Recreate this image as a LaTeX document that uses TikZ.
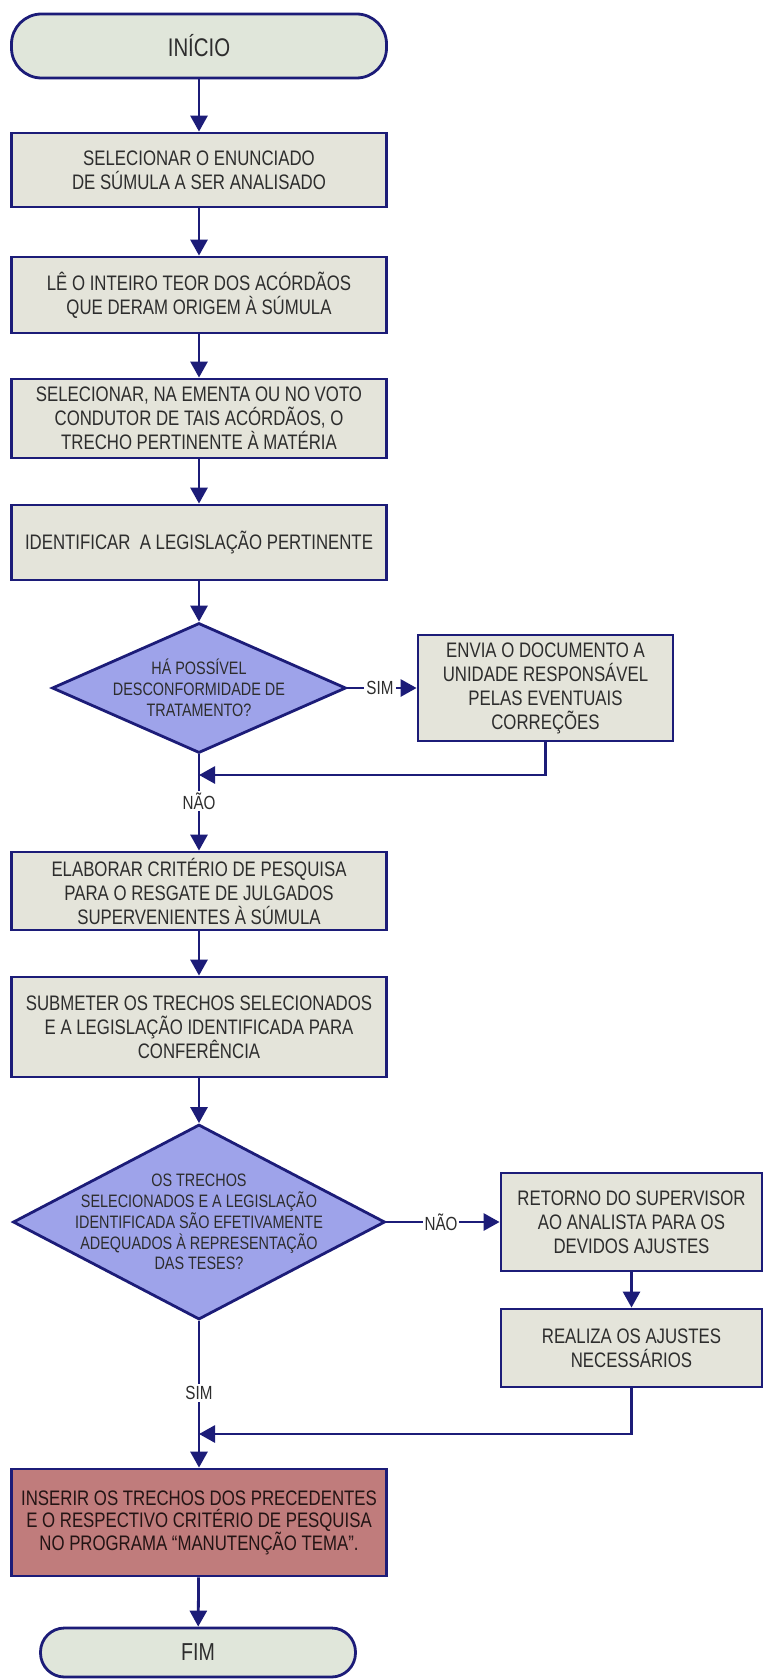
\documentclass[tikz,border=0pt]{standalone}
\usepackage{fontspec}
\setmainfont{Liberation Sans}[FakeStretch=0.8]
\usetikzlibrary{arrows.meta,shapes.geometric}
\definecolor{navy}{RGB}{28,28,120}
\definecolor{boxfill}{RGB}{228,228,218}
\definecolor{termfill}{RGB}{224,230,218}
\definecolor{diafill}{RGB}{158,163,234}
\definecolor{insfill}{RGB}{192,124,124}
\definecolor{txt}{RGB}{45,45,45}
\begin{document}
\begin{tikzpicture}[x=1pt,y=-1pt,
  box/.style={draw=navy,line width=2.8pt,fill=boxfill,minimum width=375pt,inner sep=0pt,align=center,text=txt,font=\fontsize{21}{24}\selectfont},
  term/.style={draw=navy,line width=2.8pt,fill=termfill,rounded corners=30pt,inner sep=0pt,text=txt,font=\fontsize{25.5}{28}\selectfont},
  dec/.style={diamond,draw=navy,line width=2.8pt,fill=diafill,inner sep=0pt},
  dtext/.style={align=center,text=txt,font=\fontsize{18}{20.8}\selectfont},
  lbl/.style={fill=white,inner sep=2pt,text=txt,font=\fontsize{19}{20}\selectfont},
  arr/.style={draw=navy,line width=2.8pt,-{Triangle[width=17pt,length=16pt]}}]
\fill[white] (0,0) rectangle (763,1680);
\useasboundingbox (0,0) rectangle (763,1680);

\node[term,minimum width=375pt,minimum height=64pt] (inicio) at (199,46) {INÍCIO};
\node[box,minimum height=74pt] (b1) at (199,170) {SELECIONAR O ENUNCIADO\\DE SÚMULA A SER ANALISADO};
\node[box,minimum height=76pt] (b2) at (199,295) {LÊ O INTEIRO TEOR DOS ACÓRDÃOS\\QUE DERAM ORIGEM À SÚMULA};
\node[box,minimum height=79pt] (b3) at (199,418.5) {SELECIONAR, NA EMENTA OU NO VOTO\\CONDUTOR DE TAIS ACÓRDÃOS, O\\TRECHO PERTINENTE À MATÉRIA};
\node[box,minimum height=75pt] (b4) at (199,542.5) {IDENTIFICAR\ \ A LEGISLAÇÃO PERTINENTE};

\node[dec,minimum width=294pt,minimum height=130pt] (d1) at (199,688) {};
\node[dtext] (d1t) at (199,688) {HÁ POSSÍVEL\\DESCONFORMIDADE DE\\TRATAMENTO?};
\node[box,minimum width=255pt,minimum height=106pt] (envia) at (545.5,688) {ENVIA O DOCUMENTO A\\UNIDADE RESPONSÁVEL\\PELAS EVENTUAIS\\CORREÇÕES};
\coordinate (j1) at (199,775);

\node[box,minimum height=78pt] (b5) at (199,891) {ELABORAR CRITÉRIO DE PESQUISA\\PARA O RESGATE DE JULGADOS\\SUPERVENIENTES À SÚMULA};
\node[box,minimum height=100pt] (b6) at (199,1027) {SUBMETER OS TRECHOS SELECIONADOS\\E A LEGISLAÇÃO IDENTIFICADA PARA\\CONFERÊNCIA};

\node[dec,minimum width=372pt,minimum height=195pt] (d2) at (199,1222) {};
\node[dtext] (d2t) at (199,1222) {OS TRECHOS\\SELECIONADOS E A LEGISLAÇÃO\\IDENTIFICADA SÃO EFETIVAMENTE\\ADEQUADOS À REPRESENTAÇÃO\\DAS TESES?};
\node[box,minimum width=261pt,minimum height=98pt] (retorno) at (631.5,1222) {RETORNO DO SUPERVISOR\\AO ANALISTA PARA OS\\DEVIDOS AJUSTES};
\node[box,minimum width=261pt,minimum height=78pt] (realiza) at (631.5,1348) {REALIZA OS AJUSTES\\NECESSÁRIOS};
\coordinate (j2) at (199,1434);

\node[box,fill=insfill,minimum height=107pt,text={rgb,255:red,35;green,20;blue,20},font=\fontsize{21}{22.5}\selectfont] (inserir) at (199,1522.5) {INSERIR OS TRECHOS DOS PRECEDENTES\\E O RESPECTIVO CRITÉRIO DE PESQUISA\\NO PROGRAMA “MANUTENÇÃO TEMA”.};
\node[term,minimum width=315pt,minimum height=49pt,rounded corners=24pt,font=\fontsize{24.5}{28}\selectfont] (fim) at (198,1652.5) {FIM};

\draw[arr] (inicio) -- (b1);
\draw[arr] (b1) -- (b2);
\draw[arr] (b2) -- (b3);
\draw[arr] (b3) -- (b4);
\draw[arr] (b4) -- (d1);
\draw[arr] (d1.east) -- (envia.west);
\node[lbl] (sim1) at (380,688) {SIM};
\draw[arr] (envia.south) |- (j1);
\draw[arr] (d1) -- (b5);
\node[lbl] (nao1) at (199,801) {NÃO};
\draw[arr] (b5) -- (b6);
\draw[arr] (b6) -- (d2);
\draw[arr] (d2.east) -- (retorno.west);
\node[lbl] (nao2) at (441,1222) {NÃO};
\draw[arr] (retorno) -- (realiza);
\draw[arr] (realiza.south) |- (j2);
\draw[arr] (d2) -- (inserir);
\node[lbl] (sim2) at (199,1393) {SIM};
\draw[arr] (inserir) -- (fim);
\end{tikzpicture}
\end{document}
